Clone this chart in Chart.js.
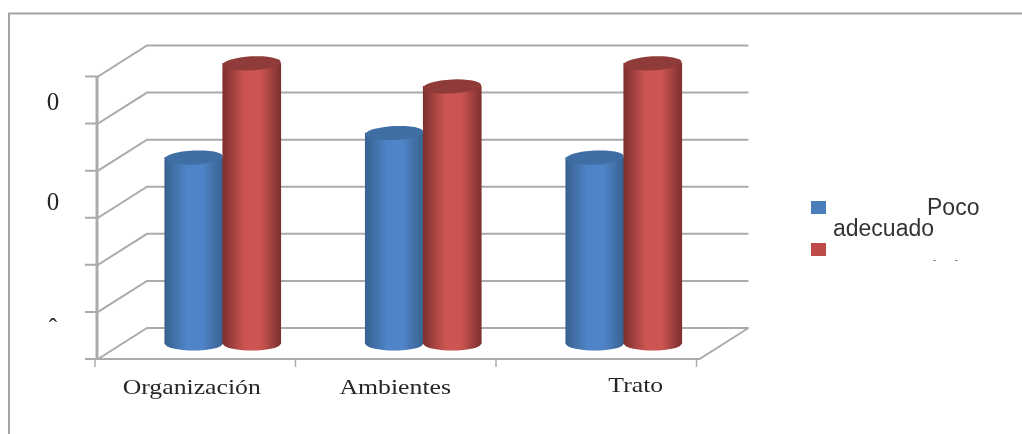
<!DOCTYPE html>
<html>
<head>
<meta charset="utf-8">
<title>Organización, Ambientes, Trato</title>
<script src="https://cdn.jsdelivr.net/npm/chart.js@4"></script>
<style>
  html, body { margin: 0; padding: 0; background: #fff; }
  #wrap { width: 1022px; height: 434px; }
</style>
</head>
<body>
<div id="wrap"><canvas id="chart" width="1022" height="434"></canvas></div>
<script>
'use strict';

const categories = ['Organización', 'Ambientes', 'Trato'];
const pocoAdecuado = [39.5, 44.7, 39.5];
const adecuado = [59.5, 54.6, 59.5];
const axisMax = 60;
const axisStep = 10;
const axisMarkValues = [50.9, 29.7, 3];
const axisMarkLabels = ['0', '0', 'ˆ'];

// label nudges along the floor, the text does not sit centred on its group
const labelShiftX = [-31, -28, 12];
const labelY = [388, 388, 386];
const labelStretch = 1.17;

const depthX = 24.5;
const depthY = 15.5;
const barWidth = 58;
const capRadius = 7;
const capTilt = -0.05;

const gridColor = '#ababab';
const blue = { edge: '#38618f', mid: '#4f84c8', cap: '#3f6ea4' };
const red = { edge: '#7d302f', mid: '#cc5552', cap: '#8f3b39' };

function cylinderFill(chart, datasetIndex, index, colors) {
  const center = chart.scales.x.getPixelForValue(index) + (datasetIndex === 0 ? -1 : 1) * barWidth / 2;
  // first pass runs before layout, the scale has no pixels yet
  if (!isFinite(center)) return colors.mid;
  const grad = chart.ctx.createLinearGradient(center - barWidth / 2, 0, center + barWidth / 2, 0);
  grad.addColorStop(0, colors.edge);
  grad.addColorStop(0.38, colors.mid);
  grad.addColorStop(0.65, colors.mid);
  grad.addColorStop(1, colors.edge);
  return grad;
}

function barFill(colors) {
  return function(context) {
    if (context.dataIndex === undefined) return colors.mid;
    return cylinderFill(context.chart, context.datasetIndex, context.dataIndex, colors);
  };
}

// back wall, side wall and floor, hung off the value scale ticks
const wallsPlugin = {
  id: 'walls',
  beforeDatasetsDraw: function(chart) {
    const ctx = chart.ctx;
    const area = chart.chartArea;
    const yScale = chart.scales.y;
    const xScale = chart.scales.x;
    const frontLeft = area.left - depthX;
    const frontRight = area.right - depthX;
    const backLeft = area.left + depthX;
    const backRight = area.right + depthX;
    const frontBottom = yScale.getPixelForValue(0) + depthY;
    const backBottom = yScale.getPixelForValue(0) - depthY;

    ctx.save();
    ctx.strokeStyle = gridColor;
    ctx.lineWidth = 2;

    yScale.ticks.forEach(function(tick) {
      const y = yScale.getPixelForValue(tick.value);
      ctx.beginPath();
      ctx.moveTo(frontLeft - 13, y + depthY);
      ctx.lineTo(frontLeft, y + depthY);
      ctx.lineTo(backLeft, y - depthY);
      ctx.lineTo(backRight, y - depthY);
      ctx.stroke();
    });

    // floor edge
    ctx.beginPath();
    ctx.moveTo(frontLeft, frontBottom);
    ctx.lineTo(frontRight, frontBottom);
    ctx.lineTo(backRight, backBottom);
    ctx.stroke();

    // front axis line
    ctx.lineWidth = 3;
    ctx.beginPath();
    ctx.moveTo(frontLeft - 1, yScale.getPixelForValue(axisMax) + depthY);
    ctx.lineTo(frontLeft - 1, frontBottom);
    ctx.stroke();

    // group separators under the floor
    ctx.lineWidth = 1.5;
    const step = xScale.getPixelForValue(1) - xScale.getPixelForValue(0);
    for (let i = 0; i <= categories.length; i++) {
      const x = xScale.getPixelForValue(0) - step / 2 + i * step - depthX - 3;
      ctx.beginPath();
      ctx.moveTo(x, frontBottom);
      ctx.lineTo(x, frontBottom + 8);
      ctx.stroke();
    }
    ctx.restore();
  }
};

function drawCylinders(chart, index, colors) {
  const ctx = chart.ctx;
  const floor = chart.scales.y.getPixelForValue(0);
  chart.getDatasetMeta(index).data.forEach(function(bar, i) {
    ctx.save();
    ctx.fillStyle = cylinderFill(chart, index, i, colors);
    ctx.beginPath();
    ctx.ellipse(bar.x, floor, barWidth / 2, capRadius, 0, 0, Math.PI * 2);
    ctx.fill();
    ctx.restore();

    bar.draw(ctx);

    ctx.save();
    ctx.fillStyle = colors.cap;
    ctx.beginPath();
    ctx.ellipse(bar.x, bar.y, barWidth / 2, capRadius, capTilt, 0, Math.PI * 2);
    ctx.fill();
    ctx.restore();
  });
}

// bars go blue first so the red ones overlap them, chart.js would do the reverse
const cylinderPlugin = {
  id: 'cylinder',
  beforeDatasetDraw: function() {
    return false;
  },
  afterDatasetsDraw: function(chart) {
    drawCylinders(chart, 0, blue);
    drawCylinders(chart, 1, red);
  }
};

// frame, axis text and the legend block
const textPlugin = {
  id: 'texts',
  beforeDraw: function(chart) {
    const ctx = chart.ctx;
    ctx.save();
    ctx.strokeStyle = '#a3a3a3';
    ctx.lineWidth = 2;
    ctx.beginPath();
    ctx.moveTo(9, 434);
    ctx.lineTo(9, 13.5);
    ctx.lineTo(1022, 13.5);
    ctx.stroke();
    ctx.restore();
  },
  afterDraw: function(chart) {
    const ctx = chart.ctx;
    const xScale = chart.scales.x;
    const yScale = chart.scales.y;

    ctx.save();
    ctx.fillStyle = '#262626';
    ctx.textBaseline = 'middle';
    ctx.textAlign = 'center';
    ctx.font = '22px "Liberation Serif"';
    categories.forEach(function(name, i) {
      ctx.save();
      ctx.translate(xScale.getPixelForValue(i) + labelShiftX[i], labelY[i]);
      ctx.scale(labelStretch, 1);
      ctx.fillText(name, 0, 0);
      ctx.restore();
    });
    ctx.font = '25px "Liberation Serif"';
    axisMarkValues.forEach(function(value, i) {
      ctx.fillText(axisMarkLabels[i], 53, yScale.getPixelForValue(value));
    });

    // legend
    ctx.fillStyle = '#4a7ebb';
    ctx.fillRect(811, 201, 15, 13);
    ctx.fillStyle = '#be4b48';
    ctx.fillRect(811, 243, 15, 13);
    ctx.fillStyle = '#333';
    ctx.textAlign = 'left';
    ctx.font = '23px "Liberation Sans"';
    ctx.fillText('Poco', 927, 209);
    ctx.fillText('adecuado', 833, 230);
    ctx.font = '9px "Liberation Sans"';
    ctx.fillText('-', 933, 261);
    ctx.fillText('-', 955, 261);
    ctx.restore();
  }
};

new Chart(document.getElementById('chart'), {
  type: 'bar',
  data: {
    labels: categories,
    datasets: [
      {
        label: 'Poco adecuado',
        data: pocoAdecuado,
        barThickness: barWidth,
        backgroundColor: barFill(blue)
      },
      {
        label: 'Adecuado',
        data: adecuado,
        barThickness: barWidth,
        backgroundColor: barFill(red)
      }
    ]
  },
  options: {
    responsive: false,
    animation: false,
    layout: { padding: { left: 122.5, right: 298, top: 61, bottom: 90.5 } },
    plugins: {
      legend: { display: false },
      tooltip: { enabled: false }
    },
    scales: {
      x: { display: false, grid: { display: false } },
      y: {
        display: false,
        min: 0,
        max: axisMax,
        ticks: { stepSize: axisStep },
        grid: { display: false }
      }
    }
  },
  plugins: [wallsPlugin, cylinderPlugin, textPlugin]
});
</script>
</body>
</html>
